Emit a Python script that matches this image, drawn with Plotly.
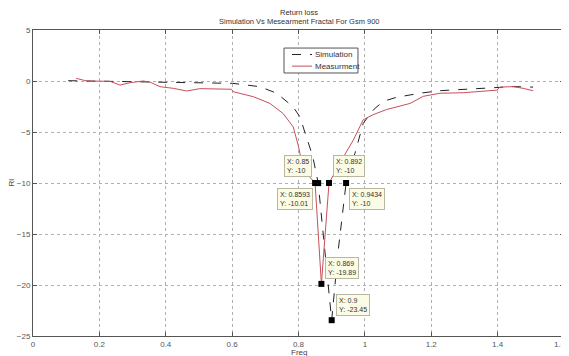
import plotly.graph_objects as go

# Simulation (dashed black)
sim_x = [0.106, 0.2, 0.3, 0.4, 0.512, 0.602, 0.684, 0.734, 0.783, 0.804, 0.824, 0.843, 0.8593,
         0.88, 0.9, 0.92, 0.9434, 0.97, 0.995, 1.025, 1.055, 1.095, 1.166, 1.226, 1.316, 1.397, 1.447, 1.507]
sim_y = [0.03, -0.02, -0.08, -0.12, -0.17, -0.23, -0.56, -1.2, -2.5, -3.5, -5.5, -7.4, -10,
         -17.0, -23.45, -16.5, -10, -7.1, -4.15, -2.85, -2.0, -1.6, -1.2, -0.95, -0.78, -0.65, -0.55, -0.6]

# Measurement (red)
meas_x = [0.13, 0.162, 0.232, 0.262, 0.292, 0.332, 0.352, 0.383, 0.423, 0.463, 0.503, 0.553, 0.598,
          0.603, 0.664, 0.714, 0.754, 0.784, 0.8, 0.814, 0.85, 0.869, 0.892, 0.93, 0.965, 0.995,
          1.025, 1.065, 1.136, 1.176, 1.226, 1.296, 1.346, 1.397, 1.407, 1.447, 1.477, 1.507]
meas_y = [0.26, 0.0, -0.03, -0.4, -0.17, 0.0, -0.1, -0.56, -0.72, -0.98, -0.75, -0.81, -0.81,
          -1.05, -1.54, -2.2, -3.2, -4.5, -6.4, -8.7, -10, -19.89, -10, -7.75, -5.8, -3.8,
          -3.3, -2.8, -2.2, -1.5, -1.2, -1.15, -1.05, -0.9, -0.6, -0.55, -0.72, -0.95]

# Data tips
tip_x = [0.85, 0.892, 0.8593, 0.9434, 0.869, 0.9]
tip_y = [-10, -10, -10.01, -10, -19.89, -23.45]
tip_label_x = ["0.85", "0.892", "0.8593", "0.9434", "0.869", "0.9"]
tip_label_y = ["-10", "-10", "-10.01", "-10", "-19.89", "-23.45"]
tip_anchor = [("right", "bottom", -3, 6), ("left", "bottom", 4, 6), ("right", "top", -5, -5),
              ("left", "top", 3, -5), ("left", "bottom", 4, 5), ("left", "bottom", 4, 4)]

title_lines = ["Return loss", "Simulation Vs Mesearment Fractal For Gsm 900"]
x_title = "Freq"
y_title = "Rl"
series_names = ["Simulation", "Measurment"]
series_colors = ["#222222", "#c8505a"]
series_dash = ["dash", "solid"]
x_last_tick_label = "1.6"

FONT = "Liberation Sans, Arial, sans-serif"

fig = go.Figure()
fig.add_trace(go.Scatter(x=sim_x, y=sim_y, mode="lines", name=series_names[0],
                         line=dict(color=series_colors[0], width=1, dash=series_dash[0])))
fig.add_trace(go.Scatter(x=meas_x, y=meas_y, mode="lines", name=series_names[1],
                         line=dict(color=series_colors[1], width=1, dash=series_dash[1])))
fig.add_trace(go.Scatter(x=tip_x, y=tip_y, mode="markers", showlegend=False,
                         marker=dict(symbol="square", size=6, color="black")))

for i in range(len(tip_x)):
    xa, ya, xs, ys = tip_anchor[i]
    fig.add_annotation(x=tip_x[i], y=tip_y[i], xref="x", yref="y", showarrow=False,
                       text=f"X: {tip_label_x[i]}<br>Y: {tip_label_y[i]}", align="left",
                       xanchor=xa, yanchor=ya, xshift=xs, yshift=ys,
                       font=dict(family=FONT, size=7, color="#333333"),
                       bgcolor="#fbfbe6", bordercolor="#b8b8a0", borderwidth=1, borderpad=2)

# title lines (two centred lines above the axes)
title_shift = [17.5, 9]
for i in range(2):
    fig.add_annotation(x=0.5, y=1, xref="paper", yref="paper", yshift=title_shift[i],
                       showarrow=False, text=title_lines[i], xanchor="center", yanchor="middle",
                       font=dict(family=FONT, size=7.5, color="#333333"))

# axis titles as annotations for exact placement
fig.add_annotation(x=0.5, y=0, xref="paper", yref="paper", yshift=-10, showarrow=False,
                   text=x_title, xanchor="center", yanchor="top",
                   font=dict(family=FONT, size=8, color="#444444"))
fig.add_annotation(x=0, y=0.5, xref="paper", yref="paper", xshift=-16, showarrow=False,
                   text=y_title, textangle=-90, xanchor="right", yanchor="middle",
                   font=dict(family=FONT, size=8, color="#444444"))
# last x tick label (Plotly drops it because it overflows the right edge)
fig.add_annotation(x=1, y=0, xref="paper", yref="paper", xshift=4, yshift=-2, showarrow=False,
                   text=x_last_tick_label, xanchor="right", yanchor="top",
                   font=dict(family=FONT, size=8, color="#555555"))

# compact MATLAB-style legend box
leg_x0, leg_x1, leg_y0, leg_y1 = 0.4727, 0.612, 0.8595, 0.941
fig.add_shape(type="rect", xref="paper", yref="paper", x0=leg_x0, x1=leg_x1, y0=leg_y0, y1=leg_y1,
              line=dict(color="#555555", width=1), fillcolor="white", layer="above")
leg_rows = [0.920, 0.882]
for i in range(2):
    fig.add_shape(type="line", xref="paper", yref="paper", x0=0.4878, x1=0.5254,
                  y0=leg_rows[i], y1=leg_rows[i], layer="above",
                  line=dict(color=series_colors[i], width=1, dash=series_dash[i]))
    fig.add_annotation(x=0.5273, y=leg_rows[i], xref="paper", yref="paper", showarrow=False,
                       text=series_names[i], xanchor="left", yanchor="middle",
                       font=dict(family=FONT, size=8, color="#333333"))

axis_common = dict(showline=True, linecolor="#555555", linewidth=1, mirror="ticks",
                   ticks="inside", ticklen=4, tickcolor="#555555", automargin=False,
                   showgrid=True, gridcolor="#b0b0b0", griddash="dot", gridwidth=1,
                   zeroline=False, tickfont=dict(family=FONT, size=8, color="#555555"))

# page body has an 8px margin: size figure so the plot lands where the reference has it
fig.update_layout(
    width=561, height=348,
    margin=dict(l=25, r=5, t=22, b=20),
    paper_bgcolor="white", plot_bgcolor="white",
    xaxis=dict(range=[0, 1.6], dtick=0.2, tick0=0, **axis_common),
    yaxis=dict(range=[-25, 5], dtick=5, tick0=0, **axis_common),
    showlegend=False,
)

fig.write_html("out.html")
